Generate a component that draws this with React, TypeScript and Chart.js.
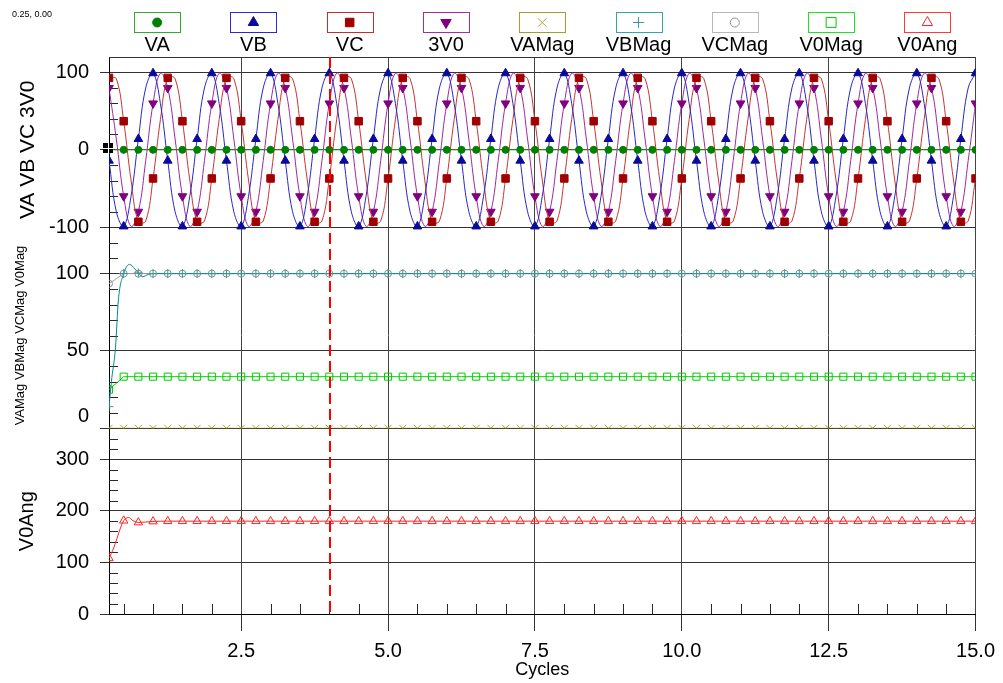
import React, { useEffect, useRef } from 'react';
import { Chart, registerables } from 'chart.js';
import { drawPoint } from 'chart.js/helpers';

Chart.register(...registerables);

const FONT = '"Liberation Sans", Arial, Helvetica, sans-serif';

// ---- x axis (cycles) ----
const xMin = 0.25;
const xMax = 15;
const xTicks = [2.5, 5, 7.5, 10, 12.5, 15];
const xTickLabels = ['2.5', '5.0', '7.5', '10.0', '12.5', '15.0'];
const xMinorStep = 0.5;
const xTitle = 'Cycles';

// ---- y axes ----
const voltTicks = [-100, 0, 100];
const voltTickLabels = ['-100', '0', '100'];
const magTicks = [0, 50, 100];
const magTickLabels = ['0', '50', '100'];
const angTicks = [0, 100, 200, 300];
const angTickLabels = ['0', '100', '200', '300'];

// ---- sampling of the traces ----
const firstCycle = 0.25;
const sineStep = 0.125; // sine traces: one value each 1/8 cycle
const markerStep = 0.25; // markers / quarter-cycle traces

// ---- sine traces (values read every 1/8 cycle from 0.25 to 15.0) ----
const vbValues = [
  -14, -80, -99, -60, 14, 80, 99, 60,
  -14, -80, -99, -60, 14, 80, 99, 60,
  -14, -80, -99, -60, 14, 80, 99, 60,
  -14, -80, -99, -60, 14, 80, 99, 60,
  -14, -80, -99, -60, 14, 80, 99, 60,
  -14, -80, -99, -60, 14, 80, 99, 60,
  -14, -80, -99, -60, 14, 80, 99, 60,
  -14, -80, -99, -60, 14, 80, 99, 60,
  -14, -80, -99, -60, 14, 80, 99, 60,
  -14, -80, -99, -60, 14, 80, 99, 60,
  -14, -80, -99, -60, 14, 80, 99, 60,
  -14, -80, -99, -60, 14, 80, 99, 60,
  -14, -80, -99, -60, 14, 80, 99, 60,
  -14, -80, -99, -60, 14, 80, 99, 60,
  -14, -80, -99, -60, 14, 80, 99,
];
const vcValues = [
  93, 92, 37, -39, -93, -92, -37, 39,
  93, 92, 37, -39, -93, -92, -37, 39,
  93, 92, 37, -39, -93, -92, -37, 39,
  93, 92, 37, -39, -93, -92, -37, 39,
  93, 92, 37, -39, -93, -92, -37, 39,
  93, 92, 37, -39, -93, -92, -37, 39,
  93, 92, 37, -39, -93, -92, -37, 39,
  93, 92, 37, -39, -93, -92, -37, 39,
  93, 92, 37, -39, -93, -92, -37, 39,
  93, 92, 37, -39, -93, -92, -37, 39,
  93, 92, 37, -39, -93, -92, -37, 39,
  93, 92, 37, -39, -93, -92, -37, 39,
  93, 92, 37, -39, -93, -92, -37, 39,
  93, 92, 37, -39, -93, -92, -37, 39,
  93, 92, 37, -39, -93, -92, -37,
];
const v3v0Values = [
  80, 14, -60, -99, -80, -14, 60, 99,
  80, 14, -60, -99, -80, -14, 60, 99,
  80, 14, -60, -99, -80, -14, 60, 99,
  80, 14, -60, -99, -80, -14, 60, 99,
  80, 14, -60, -99, -80, -14, 60, 99,
  80, 14, -60, -99, -80, -14, 60, 99,
  80, 14, -60, -99, -80, -14, 60, 99,
  80, 14, -60, -99, -80, -14, 60, 99,
  80, 14, -60, -99, -80, -14, 60, 99,
  80, 14, -60, -99, -80, -14, 60, 99,
  80, 14, -60, -99, -80, -14, 60, 99,
  80, 14, -60, -99, -80, -14, 60, 99,
  80, 14, -60, -99, -80, -14, 60, 99,
  80, 14, -60, -99, -80, -14, 60, 99,
  80, 14, -60, -99, -80, -14, 60,
];

// ---- quarter-cycle traces (0.25 .. 15.0) ----
const vaValues = [
  0, 0, 0, 0, 0, 0, 0, 0, 0, 0,
  0, 0, 0, 0, 0, 0, 0, 0, 0, 0,
  0, 0, 0, 0, 0, 0, 0, 0, 0, 0,
  0, 0, 0, 0, 0, 0, 0, 0, 0, 0,
  0, 0, 0, 0, 0, 0, 0, 0, 0, 0,
  0, 0, 0, 0, 0, 0, 0, 0, 0, 0,
];
const vaMagValues = [
  0, 0, 0, 0, 0, 0, 0, 0, 0, 0,
  0, 0, 0, 0, 0, 0, 0, 0, 0, 0,
  0, 0, 0, 0, 0, 0, 0, 0, 0, 0,
  0, 0, 0, 0, 0, 0, 0, 0, 0, 0,
  0, 0, 0, 0, 0, 0, 0, 0, 0, 0,
  0, 0, 0, 0, 0, 0, 0, 0, 0, 0,
];
const vbMagValues = [
  14, 100, 100.5, 100, 100, 100, 100, 100, 100, 100,
  100, 100, 100, 100, 100, 100, 100, 100, 100, 100,
  100, 100, 100, 100, 100, 100, 100, 100, 100, 100,
  100, 100, 100, 100, 100, 100, 100, 100, 100, 100,
  100, 100, 100, 100, 100, 100, 100, 100, 100, 100,
  100, 100, 100, 100, 100, 100, 100, 100, 100, 100,
];
const vbMagTransientX = [0.29, 0.36, 0.41, 0.6, 0.69, 0.82, 0.92];
const vbMagTransientY = [30, 52, 83, 106, 103, 98, 99.5];
const vcMagValues = [
  93.5, 100, 100, 100, 100, 100, 100, 100, 100, 100,
  100, 100, 100, 100, 100, 100, 100, 100, 100, 100,
  100, 100, 100, 100, 100, 100, 100, 100, 100, 100,
  100, 100, 100, 100, 100, 100, 100, 100, 100, 100,
  100, 100, 100, 100, 100, 100, 100, 100, 100, 100,
  100, 100, 100, 100, 100, 100, 100, 100, 100, 100,
];
const v0MagValues = [
  25, 33.4, 33.4, 33.4, 33.4, 33.4, 33.4, 33.4, 33.4, 33.4,
  33.4, 33.4, 33.4, 33.4, 33.4, 33.4, 33.4, 33.4, 33.4, 33.4,
  33.4, 33.4, 33.4, 33.4, 33.4, 33.4, 33.4, 33.4, 33.4, 33.4,
  33.4, 33.4, 33.4, 33.4, 33.4, 33.4, 33.4, 33.4, 33.4, 33.4,
  33.4, 33.4, 33.4, 33.4, 33.4, 33.4, 33.4, 33.4, 33.4, 33.4,
  33.4, 33.4, 33.4, 33.4, 33.4, 33.4, 33.4, 33.4, 33.4, 33.4,
];
const v0AngValues = [
  108, 181, 177.5, 179.5, 180, 180, 180, 180, 180, 180,
  180, 180, 180, 180, 180, 180, 180, 180, 180, 180,
  180, 180, 180, 180, 180, 180, 180, 180, 180, 180,
  180, 180, 180, 180, 180, 180, 180, 180, 180, 180,
  180, 180, 180, 180, 180, 180, 180, 180, 180, 180,
  180, 180, 180, 180, 180, 180, 180, 180, 180, 180,
];
const v0AngTransientX = [0.33, 0.44, 0.58, 0.66];
const v0AngTransientY = [128, 165, 187, 181];

// ---- cursors ----
const cursorX = 0.25;
const cursorY = 0;
const cursorLineX = 4.0;

// ---- helpers to build the library's data ----
const onGrid = (vals: number[], step: number) =>
  vals.map((y, i) => ({ x: firstCycle + i * step, y }));
const withExtra = (base: { x: number; y: number }[], xs: number[], ys: number[]) =>
  [...base, ...xs.map((x, i) => ({ x, y: ys[i] }))].sort((a, b) => a.x - b.x);
const isMarker = (x: number) => Math.abs(x / markerStep - Math.round(x / markerStep)) < 1e-6;
const markerRadius = (r: number) => (c: any) => (c.raw && isMarker(c.raw.x) ? r : 0);

type Sty = {
  label: string; axis: string; line: string; mark: string; fill: string;
  style: string; rot: number; r: number; data: any[]; tension: number; mono?: boolean;
  legendR: number;
};

const series: Sty[] = [
  { label: 'VA', axis: 'yV', line: '#2fa52f', mark: '#008000', fill: '#008000', style: 'circle', rot: 0, r: 3.5, legendR: 4.5, data: onGrid(vaValues, markerStep), tension: 0 },
  { label: 'VB', axis: 'yV', line: '#2828c4', mark: '#0a0a9a', fill: '#0a0a9a', style: 'triangle', rot: 0, r: 5, legendR: 6, data: onGrid(vbValues, sineStep), tension: 0.4 },
  { label: 'VC', axis: 'yV', line: '#c83434', mark: '#a00000', fill: '#a00000', style: 'rect', rot: 0, r: 5.3, legendR: 6, data: onGrid(vcValues, sineStep), tension: 0.4 },
  { label: '3V0', axis: 'yV', line: '#a028a0', mark: '#800080', fill: '#800080', style: 'triangle', rot: 180, r: 5, legendR: 6, data: onGrid(v3v0Values, sineStep), tension: 0.4 },
  { label: 'VAMag', axis: 'yMag', line: '#999900', mark: '#a8a830', fill: 'rgba(0,0,0,0)', style: 'crossRot', rot: 0, r: 5, legendR: 6, data: onGrid(vaMagValues, markerStep), tension: 0 },
  { label: 'VBMag', axis: 'yMag', line: '#008b8b', mark: '#3a9a9a', fill: 'rgba(0,0,0,0)', style: 'cross', rot: 0, r: 4.5, legendR: 5.5, data: withExtra(onGrid(vbMagValues, markerStep), vbMagTransientX, vbMagTransientY), tension: 0, mono: true },
  { label: 'VCMag', axis: 'yMag', line: '#a8a8a8', mark: '#909090', fill: 'rgba(0,0,0,0)', style: 'circle', rot: 0, r: 3.5, legendR: 4.5, data: onGrid(vcMagValues, markerStep), tension: 0 },
  { label: 'V0Mag', axis: 'yMag', line: '#00dd00', mark: '#00cc00', fill: 'rgba(0,0,0,0)', style: 'rect', rot: 0, r: 5, legendR: 7, data: onGrid(v0MagValues, markerStep), tension: 0 },
  { label: 'V0Ang', axis: 'yAng', line: '#ff2020', mark: '#ff2020', fill: 'rgba(0,0,0,0)', style: 'triangle', rot: 0, r: 4.8, legendR: 6, data: withExtra(onGrid(v0AngValues, markerStep), v0AngTransientX, v0AngTransientY), tension: 0, mono: true },
];

const legendBorder = ['#33a833', '#2a2ad0', '#c03030', '#a030a0', '#a0a030', '#30a8a8', '#b8b8b8', '#22e022', '#ff3a3a'];

const minorY: Record<string, number> = { yV: 20, yMag: 10, yAng: 20 };
const axisTitleStyle: Record<string, { size: number; x: number }> = {
  yV: { size: 21, x: 28 },
  yMag: { size: 13, x: 20 },
  yAng: { size: 20, x: 27 },
};
const shiftedLabel = { axis: 'yMag', value: 0, text: '0', dy: -11.7 };

const overlayPlugin = {
  id: 'overlay',
  beforeDatasetsDraw(chart: any) {
    const { ctx, chartArea: a, scales } = chart;
    ctx.save();
    ctx.lineWidth = 1;
    ctx.strokeStyle = '#2a2a2a';
    for (const id of Object.keys(minorY)) {
      const s = scales[id];
      const majors = s.ticks.map((t: any) => t.value);
      for (let v = s.min; v <= s.max + 1e-9; v += minorY[id]) {
        if (majors.some((m: number) => Math.abs(m - v) < 1e-9)) continue;
        const py = Math.round(s.getPixelForValue(v)) + 0.5;
        ctx.beginPath();
        ctx.moveTo(a.left, py);
        ctx.lineTo(a.left + 9, py);
        ctx.stroke();
      }
    }
    const sx = scales.x;
    for (let v = Math.ceil(sx.min / xMinorStep) * xMinorStep; v <= sx.max + 1e-9; v += xMinorStep) {
      if (xTicks.some((m) => Math.abs(m - v) < 1e-9)) continue;
      const px = Math.round(sx.getPixelForValue(v)) + 0.5;
      ctx.beginPath();
      ctx.moveTo(px, a.bottom);
      ctx.lineTo(px, a.bottom - 10);
      ctx.stroke();
    }
    ctx.strokeStyle = '#333333';
    ctx.beginPath();
    ctx.moveTo(a.left, Math.round(a.top) + 0.5);
    ctx.lineTo(a.right, Math.round(a.top) + 0.5);
    ctx.stroke();
    ctx.restore();
  },
  afterDatasetsDraw(chart: any) {
    const { ctx, chartArea: a, scales } = chart;
    ctx.save();
    // dashed cursor line
    const lx = Math.round(scales.x.getPixelForValue(cursorLineX)) + 1;
    ctx.strokeStyle = '#ff0000';
    ctx.lineWidth = 2;
    ctx.setLineDash([11, 5]);
    ctx.beginPath();
    ctx.moveTo(lx, a.top);
    ctx.lineTo(lx, a.bottom);
    ctx.stroke();
    ctx.setLineDash([]);
    // cursor marker
    const cx = Math.round(scales.x.getPixelForValue(cursorX)) - 1;
    const cy = Math.round(scales.yV.getPixelForValue(cursorY)) - 2;
    ctx.fillStyle = '#000';
    ctx.fillRect(cx - 5, cy - 5, 10, 10);
    ctx.fillStyle = '#fff';
    ctx.fillRect(cx, cy - 5, 1, 10);
    ctx.fillRect(cx - 5, cy, 10, 1);
    ctx.restore();
  },
  afterDraw(chart: any) {
    const { ctx, chartArea: a, scales } = chart;
    ctx.save();
    // legend
    const n = series.length;
    const w = (a.right - a.left) / n;
    series.forEach((s, i) => {
      const cx = a.left + (i + 0.5) * w;
      ctx.strokeStyle = legendBorder[i];
      ctx.lineWidth = 1;
      ctx.strokeRect(Math.round(cx - 23) + 0.5, 12.5, 46, 20);
      ctx.strokeStyle = s.mark;
      ctx.fillStyle = s.fill;
      drawPoint(ctx, { pointStyle: s.style, rotation: s.rot, radius: s.legendR, borderWidth: 1 } as any, cx, 22.5);
      ctx.fillStyle = '#000';
      ctx.font = `20px ${FONT}`;
      ctx.textAlign = 'center';
      ctx.textBaseline = 'middle';
      ctx.fillText(s.label, cx, 45);
    });
    // axis titles
    for (const id of Object.keys(axisTitleStyle)) {
      const sc = scales[id];
      const st = axisTitleStyle[id];
      const text = series.filter((s) => s.axis === id).map((s) => s.label).join(' ');
      ctx.save();
      ctx.translate(st.x, (sc.top + sc.bottom) / 2);
      ctx.rotate(-Math.PI / 2);
      ctx.font = `${st.size}px ${FONT}`;
      ctx.fillStyle = '#000';
      ctx.textAlign = 'center';
      ctx.textBaseline = 'middle';
      ctx.fillText(text, 0, 0);
      ctx.restore();
    }
    // shifted bottom label of the middle panel
    const ms = scales[shiftedLabel.axis];
    ctx.font = `20px ${FONT}`;
    ctx.fillStyle = '#000';
    ctx.textAlign = 'right';
    ctx.textBaseline = 'middle';
    ctx.fillText(shiftedLabel.text, a.left - 20, ms.getPixelForValue(shiftedLabel.value) + shiftedLabel.dy);
    // cursor readout
    ctx.font = `9px ${FONT}`;
    ctx.textAlign = 'left';
    ctx.textBaseline = 'top';
    ctx.fillText(`${cursorX.toFixed(2)}, ${cursorY.toFixed(2)}`, 12, 10);
    ctx.restore();
  },
};

const yAxis = (ticks: number[], labels: string[], min: number, max: number, hideValue?: number) => ({
  type: 'linear',
  position: 'left',
  stack: 'panels',
  stackWeight: 1,
  min,
  max,
  afterBuildTicks: (s: any) => {
    s.ticks = ticks.map((v) => ({ value: v }));
  },
  afterFit: (s: any) => {
    s.width = 109;
  },
  ticks: {
    autoSkip: false,
    padding: 11,
    color: '#000',
    font: { family: FONT, size: 20 },
    callback: (v: number) => (v === hideValue ? '' : labels[ticks.indexOf(v)] ?? ''),
  },
  grid: { color: '#333333', tickColor: '#333333', tickLength: 9, lineWidth: 1 },
  border: { display: true, color: '#000', width: 1 },
});

export default function App() {
  const ref = useRef<HTMLCanvasElement>(null);
  useEffect(() => {
    if (!ref.current) return;
    Chart.defaults.font.family = FONT;
    const chart = new Chart(ref.current, {
      type: 'line',
      data: {
        datasets: series.map((s) => ({
          label: s.label,
          data: s.data,
          yAxisID: s.axis,
          borderColor: s.line,
          borderWidth: 1,
          backgroundColor: s.fill,
          pointStyle: s.style,
          pointRotation: s.rot,
          pointRadius: markerRadius(s.r),
          pointBorderColor: s.mark,
          pointBackgroundColor: s.fill,
          pointBorderWidth: 1,
          tension: s.tension,
          cubicInterpolationMode: s.mono ? 'monotone' : 'default',
          fill: false,
        })),
      },
      options: {
        animation: false,
        responsive: false,
        devicePixelRatio: 1,
        events: [],
        layout: { padding: { top: 57, right: 26, left: 0, bottom: 0 } },
        plugins: { legend: { display: false }, tooltip: { enabled: false }, title: { display: false } },
        scales: {
          yAng: yAxis(angTicks, angTickLabels, 0, 360),
          yMag: yAxis(magTicks, magTickLabels, 0, 120, 0),
          yV: yAxis(voltTicks, voltTickLabels, -120, 120),
          x: {
            type: 'linear',
            position: 'bottom',
            min: xMin,
            max: xMax,
            afterBuildTicks: (s: any) => {
              s.ticks = xTicks.map((v) => ({ value: v }));
            },
            afterFit: (s: any) => {
              s.height = 69;
            },
            ticks: {
              autoSkip: false,
              maxRotation: 0,
              padding: 8,
              color: '#000',
              font: { family: FONT, size: 20 },
              callback: (v: number) => xTickLabels[xTicks.indexOf(v)] ?? '',
            },
            grid: { color: '#444444', tickColor: '#333333', tickLength: 17, lineWidth: 1 },
            border: { display: true, color: '#000', width: 1 },
            title: { display: true, text: xTitle, color: '#000', font: { family: FONT, size: 18 }, padding: { top: 0, bottom: 2 } },
          },
        } as any,
      },
      plugins: [overlayPlugin],
    } as any);
    return () => chart.destroy();
  }, []);
  return (
    <div style={{ position: 'fixed', left: 0, top: 0, width: 1003, height: 683, background: '#fff' }}>
      <canvas ref={ref} width={1003} height={683} style={{ display: 'block', width: 1003, height: 683 }} />
    </div>
  );
}
